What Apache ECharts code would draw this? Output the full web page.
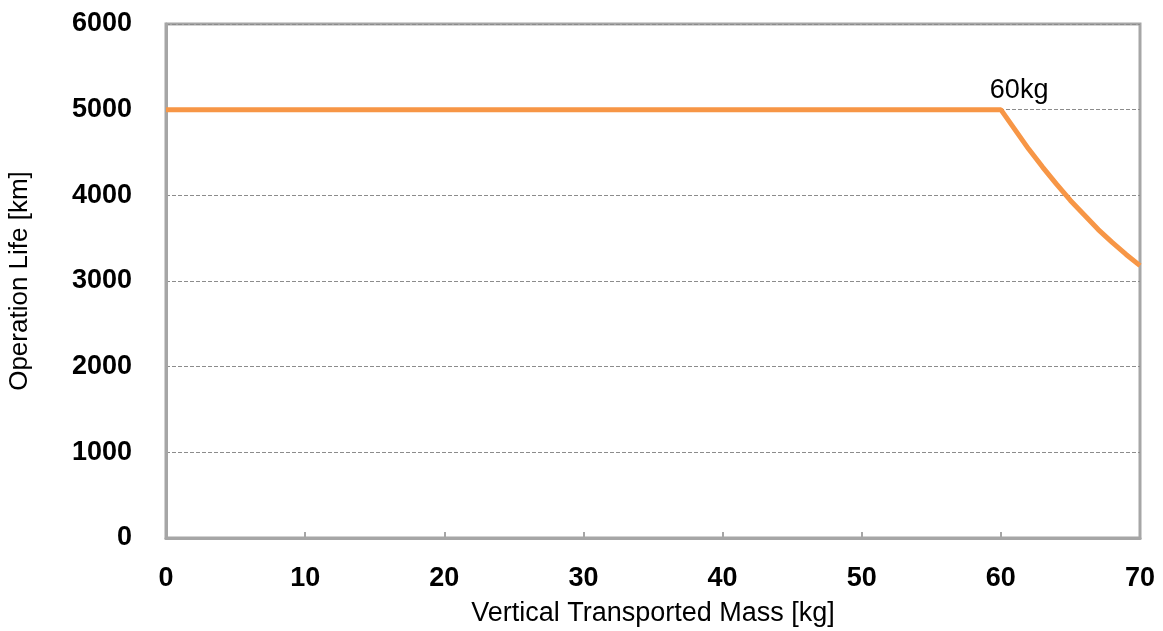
<!DOCTYPE html>
<html><head><meta charset="utf-8">
<script src="https://cdn.jsdelivr.net/npm/echarts@6/dist/echarts.min.js"></script>
<style>html,body{margin:0;padding:0;background:#fff}#c{width:1163px;height:631px}</style>
</head><body><div id="c"></div>
<script>
const massKg = [0, 60, 61, 62, 63, 64, 65, 66, 67, 68, 69, 70];
const lifeKm = [5000, 5000, 4770, 4540, 4330, 4130, 3940, 3770, 3600, 3450, 3310, 3180];
const xTicks = [0, 10, 20, 30, 40, 50, 60, 70];
const yTicks = [0, 1000, 2000, 3000, 4000, 5000, 6000];
const annotation = { x: 60, y: 5000, text: '60kg' };

const chart = echarts.init(document.getElementById('c'), null, { renderer: 'canvas' });
const F = 'Arial, "Liberation Sans", sans-serif';
chart.setOption({
  animation: false,
  grid: { left: 166, right: 23, top: 24, bottom: 93, show: true, borderColor: '#a6a6a6', borderWidth: 3, containLabel: false, outerBoundsMode: 'none' },
  xAxis: {
    type: 'value', min: xTicks[0], max: xTicks[xTicks.length - 1], interval: 10,
    name: 'Vertical Transported Mass [kg]', nameLocation: 'middle', nameGap: 62,
    nameTextStyle: { fontFamily: F, fontSize: 27, color: '#000' },
    axisLine: { show: true, lineStyle: { color: '#a6a6a6', width: 3 } },
    axisTick: { show: true, inside: true, length: 6, lineStyle: { color: '#a6a6a6', width: 2 } },
    axisLabel: { fontFamily: F, fontSize: 27, fontWeight: 'bold', color: '#000', margin: 27, formatter: v => String(v) },
    splitLine: { show: false }
  },
  yAxis: {
    type: 'value', min: yTicks[0], max: yTicks[yTicks.length - 1], interval: 1000,
    name: 'Operation Life [km]', nameLocation: 'middle', nameGap: 133,
    nameTextStyle: { fontFamily: F, fontSize: 26, color: '#000' },
    axisLine: { show: true, lineStyle: { color: '#a6a6a6', width: 3 } },
    axisTick: { show: false },
    axisLabel: { fontFamily: F, fontSize: 27, fontWeight: 'bold', color: '#000', margin: 34, formatter: v => String(v) },
    splitLine: { show: true, lineStyle: { color: '#8c8c8c', type: [4, 2], width: 1 } }
  },
  series: [{
    type: 'line',
    data: massKg.map((m, i) => [m, lifeKm[i]]),
    smooth: false, showSymbol: false, symbol: 'none',
    lineStyle: { color: '#f79646', width: 5 },
    markPoint: {
      symbol: 'circle', symbolSize: 0,
      data: [{ coord: [annotation.x, annotation.y], value: annotation.text }],
      label: { show: true, formatter: annotation.text, position: [-11, -33], fontFamily: F, fontSize: 27, color: '#000' }
    }
  }]
});
</script></body></html>
